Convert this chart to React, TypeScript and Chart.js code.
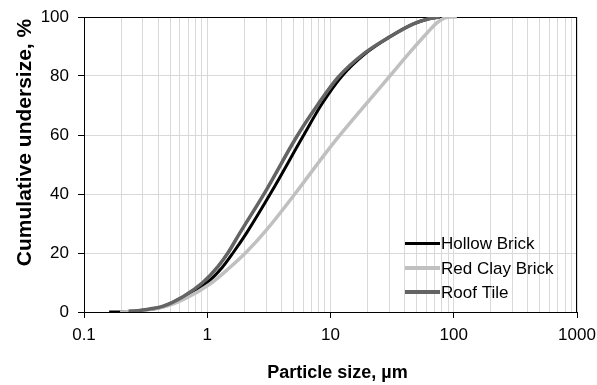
import React, { useEffect, useRef } from "react";
import { Chart, registerables } from "chart.js";

Chart.register(...registerables);

// Particle size (µm) and cumulative undersize (%) per material
const hollowX = [0.16, 0.2, 0.236, 0.413, 0.635, 1.0, 1.316, 1.616, 2.1, 3.35, 5.97, 8.51, 12.4, 19.7, 30.3, 46.6, 64, 77];
const hollowY = [0, 0, 0.3, 1.5, 5, 10, 15, 20, 27, 41, 59.5, 70.5, 80, 88, 93.3, 97.6, 99.5, 100];

const redClayX = [0.196, 0.284, 0.454, 0.659, 1.052, 1.47, 2.1, 3.05, 5.14, 10, 19.7, 30.3, 44, 60.5, 72.9, 84.7, 96.5, 106];
const redClayY = [0, 0.4, 1.8, 4.5, 9.5, 14.5, 20.5, 28, 40, 56, 70.8, 80, 88, 94.5, 98, 99.7, 100, 100];

const roofX = [0.23, 0.34, 0.44, 0.635, 0.92, 1.22, 1.47, 1.81, 2.98, 5.33, 7.95, 11.5, 19.0, 30.3, 46.6, 64, 77];
const roofY = [0, 1, 2, 5.2, 10, 15.4, 20, 26.3, 41, 59.5, 70.5, 79.5, 87.8, 93.3, 97.6, 99.5, 100];

const seriesNames = ["Hollow Brick", "Red Clay Brick", "Roof Tile"];
const seriesColors = ["#000000", "#c0c0c0", "#646464"];

const xDecades = [0.1, 1, 10, 100, 1000];
const xTickLabels = ["0.1", "1", "10", "100", "1000"];
const yTicks = [0, 20, 40, 60, 80, 100];

const FONT = '"Liberation Sans", Arial, sans-serif';

const pts = (xs: number[], ys: number[]) => xs.map((x, i) => ({ x, y: ys[i] }));

const isDecade = (v: number) => xDecades.some((d) => Math.abs(v / d - 1) < 1e-6);

const decorPlugin = {
  id: "decor",
  beforeDatasetsDraw(chart: any) {
    const { ctx, chartArea: a } = chart;
    ctx.save();
    ctx.strokeStyle = "#000";
    ctx.lineWidth = 1;
    ctx.beginPath();
    ctx.moveTo(a.left, a.top + 0.5);
    ctx.lineTo(a.right, a.top + 0.5);
    ctx.moveTo(a.right - 0.5, a.top);
    ctx.lineTo(a.right - 0.5, a.bottom);
    ctx.stroke();
    ctx.restore();
  },
  afterDraw(chart: any) {
    const { ctx } = chart;
    ctx.save();
    ctx.fillStyle = "#000";
    ctx.font = `bold 18px ${FONT}`;
    ctx.textAlign = "center";
    ctx.textBaseline = "alphabetic";
    ctx.fillText("Particle size, µm", 337.5, 378);
    ctx.save();
    ctx.translate(31, 142.5);
    ctx.rotate(-Math.PI / 2);
    ctx.font = `bold 21px ${FONT}`;
    ctx.fillText("Cumulative undersize, %", 0, 0);
    ctx.restore();
    const widths = [3, 4, 4];
    const ys = [243.5, 268, 292];
    ctx.font = `17px ${FONT}`;
    ctx.textAlign = "left";
    ctx.textBaseline = "middle";
    seriesNames.forEach((name, i) => {
      ctx.strokeStyle = seriesColors[i];
      ctx.lineWidth = widths[i];
      ctx.beginPath();
      ctx.moveTo(405, ys[i]);
      ctx.lineTo(440, ys[i]);
      ctx.stroke();
      ctx.fillStyle = "#000";
      ctx.fillText(name, 441, ys[i] + 1);
    });
    ctx.restore();
  },
};

export default function App() {
  const ref = useRef<HTMLCanvasElement | null>(null);
  useEffect(() => {
    if (!ref.current) return;
    const chart = new Chart(ref.current, {
      type: "line",
      data: {
        datasets: [
          {
            label: seriesNames[0],
            data: pts(hollowX, hollowY),
            borderColor: seriesColors[0],
            borderWidth: 3,
            order: 3,
          },
          {
            label: seriesNames[1],
            data: pts(redClayX, redClayY),
            borderColor: seriesColors[1],
            borderWidth: 3.5,
            order: 2,
          },
          {
            label: seriesNames[2],
            data: pts(roofX, roofY),
            borderColor: seriesColors[2],
            borderWidth: 3.5,
            order: 1,
          },
        ] as any,
      },
      options: {
        animation: false,
        responsive: false,
        parsing: false as any,
        elements: {
          point: { radius: 0 },
          line: { cubicInterpolationMode: "monotone", fill: false },
        },
        layout: { padding: { left: 0, right: 20, top: 17, bottom: 0 } },
        plugins: {
          legend: { display: false },
          tooltip: { enabled: false },
          title: { display: false },
        },
        scales: {
          x: {
            type: "logarithmic",
            min: 0.1,
            max: 1000,
            afterBuildTicks: (scale: any) => {
              const ticks: any[] = [];
              xDecades.forEach((d, i) => {
                if (i === xDecades.length - 1) {
                  ticks.push({ value: d });
                } else {
                  for (let k = 1; k <= 9; k++) ticks.push({ value: d * k });
                }
              });
              scale.ticks = ticks;
            },
            afterFit: (scale: any) => {
              scale.height = 73;
              scale.paddingLeft = 0;
              scale.paddingRight = 0;
            },
            ticks: {
              autoSkip: false,
              maxRotation: 0,
              padding: 7,
              color: "#000",
              font: { family: FONT, size: 17 },
              callback: (v: any) => {
                const idx = xDecades.findIndex((d) => Math.abs(Number(v) / d - 1) < 1e-6);
                return idx >= 0 ? xTickLabels[idx] : "";
              },
            },
            grid: {
              color: "#d9d9d9",
              lineWidth: 1,
              tickLength: 6,
              tickColor: (c: any) => (c.tick && isDecade(c.tick.value) ? "#000" : "rgba(0,0,0,0)"),
            },
            border: { color: "#000", width: 1 },
          },
          y: {
            type: "linear",
            min: 0,
            max: 100,
            afterBuildTicks: (scale: any) => {
              scale.ticks = yTicks.map((v) => ({ value: v }));
            },
            afterFit: (scale: any) => {
              scale.width = 84;
              scale.paddingTop = 0;
              scale.paddingBottom = 0;
            },
            ticks: {
              padding: 9,
              color: "#000",
              font: { family: FONT, size: 17 },
            },
            grid: {
              color: "#d9d9d9",
              lineWidth: 1,
              tickLength: 6,
              tickColor: "#000",
            },
            border: { color: "#000", width: 1 },
          },
        },
      },
      plugins: [decorPlugin],
    } as any);
    return () => chart.destroy();
  }, []);
  return (
    <div style={{ position: "absolute", left: 0, top: 0, width: 597, height: 385, background: "#fff" }}>
      <canvas ref={ref} width={597} height={385} style={{ display: "block" }} />
    </div>
  );
}
